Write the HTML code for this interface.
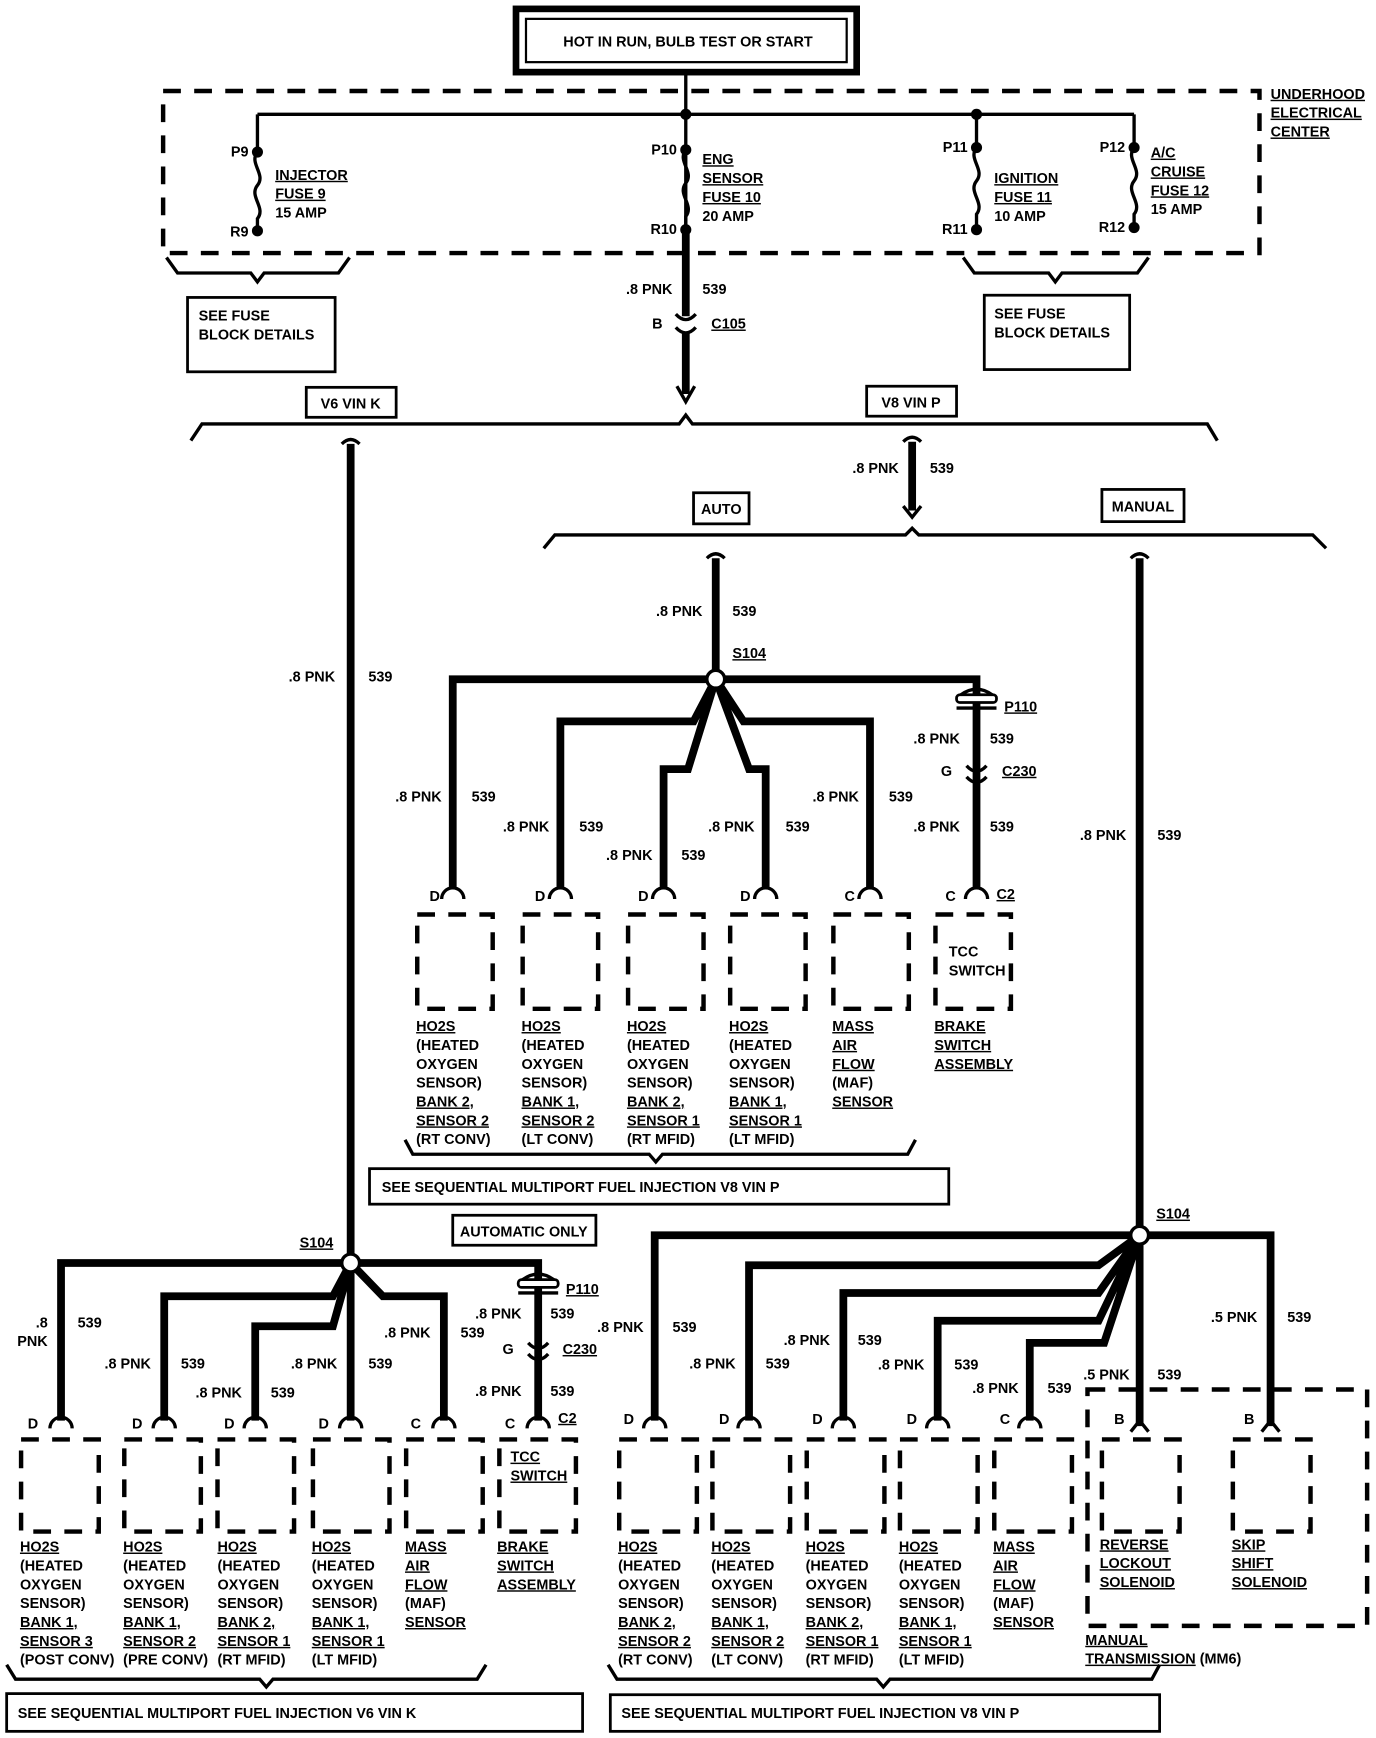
<!DOCTYPE html>
<html><head><meta charset="utf-8"><style>
html,body{margin:0;padding:0;background:#fff}
svg{display:block}
text{font-family:"Liberation Sans",sans-serif;font-weight:bold;font-size:13px;fill:#000}
.u{text-decoration:underline}
.w{stroke:#000;stroke-width:7;fill:none}
.t{stroke:#000;stroke-width:3;fill:none}
.d{stroke:#000;stroke-width:4;fill:none;stroke-dasharray:16 12}
.b{stroke:#000;stroke-width:2.5;fill:#fff}
</style></head><body>
<svg width="1376" height="1738" viewBox="0 0 1240 1566" preserveAspectRatio="none" xmlns="http://www.w3.org/2000/svg">
<rect x="0" y="0" width="1240" height="1566" fill="#fff"/>
<!-- top box -->
<rect x="465" y="8" width="307" height="57" fill="none" stroke="#000" stroke-width="6"/>
<rect x="474" y="17" width="289" height="39" fill="none" stroke="#000" stroke-width="2"/>
<text x="620" y="42" text-anchor="middle">HOT IN RUN, BULB TEST OR START</text>
<!-- dashed center -->
<rect x="147" y="82" width="988" height="146" class="d"/>
<path class="t" d="M618 65V210M232 103H1022M232 103V135M880 103V133M1022 103V133"/>
<path class="t" d="M232 137c-8 10 8 20 0 30s8 20 0 30v11M618 135c-8 10 8 20 0 30s8 20 0 30v11M880 133c-8 10 8 20 0 30s8 20 0 30v11M1022 133c-8 10 8 20 0 30s8 20 0 30v9"/>
<g fill="#000"><circle cx="618" cy="103" r="5"/><circle cx="880" cy="103" r="5"/>
<circle cx="232" cy="137" r="5"/><circle cx="232" cy="208" r="5"/><circle cx="618" cy="135" r="5"/><circle cx="618" cy="207" r="5"/><circle cx="880" cy="133" r="5"/><circle cx="880" cy="207" r="5"/><circle cx="1022" cy="133" r="5"/><circle cx="1022" cy="205" r="5"/></g>
<text x="224" y="141" text-anchor="end">P9</text><text x="224" y="213" text-anchor="end">R9</text>
<text x="610" y="139" text-anchor="end">P10</text><text x="610" y="211" text-anchor="end">R10</text>
<text x="872" y="137" text-anchor="end">P11</text><text x="872" y="211" text-anchor="end">R11</text>
<text x="1014" y="137" text-anchor="end">P12</text><text x="1014" y="209" text-anchor="end">R12</text>
<text x="248" y="162" class="u">INJECTOR</text><text x="248" y="179" class="u">FUSE 9</text><text x="248" y="196">15 AMP</text>
<text x="633" y="148" class="u">ENG</text><text x="633" y="165" class="u">SENSOR</text><text x="633" y="182" class="u">FUSE 10</text><text x="633" y="199">20 AMP</text>
<text x="896" y="165" class="u">IGNITION</text><text x="896" y="182" class="u">FUSE 11</text><text x="896" y="199">10 AMP</text>
<text x="1037" y="142" class="u">A/C</text><text x="1037" y="159" class="u">CRUISE</text><text x="1037" y="176" class="u">FUSE 12</text><text x="1037" y="193">15 AMP</text>
<text x="1145" y="89" class="u">UNDERHOOD</text><text x="1145" y="106" class="u">ELECTRICAL</text><text x="1145" y="123" class="u">CENTER</text>
<!-- fuse block brackets -->
<path class="t" d="M150 232L160 246H226L232 254L238 246H305L315 232M868 232L878 246H945L951 254L957 246H1025L1035 232"/>
<rect x="169" y="268" width="133" height="67" class="b"/><text x="179" y="289">SEE FUSE</text><text x="179" y="306">BLOCK DETAILS</text>
<rect x="887" y="266" width="131" height="67" class="b"/><text x="896" y="287">SEE FUSE</text><text x="896" y="304">BLOCK DETAILS</text>
<!-- C105 -->
<path class="w" d="M618 210V285M618 300V355"/>
<path class="t" d="M609 283q9 10 18 0M609 295q9 10 18 0"/>
<path d="M610 348L618 362L626 348" class="t"/>
<text x="606" y="265" text-anchor="end">.8 PNK</text><text x="633" y="265">539</text>
<text x="597" y="296" text-anchor="end">B</text><text x="641" y="296" class="u">C105</text>
<!-- big bracket -->
<path class="t" d="M172 397L182 382H612L618 374L624 382H1088L1097 397"/>
<rect x="276" y="349" width="81" height="27" class="b"/><text x="316" y="368" text-anchor="middle">V6 VIN K</text>
<rect x="781" y="348" width="81" height="27" class="b"/><text x="821" y="367" text-anchor="middle">V8 VIN P</text>
<!-- left long vertical -->
<path class="w" d="M316 400V1138"/><path class="t" d="M308 400q8-8 16 0"/>
<text x="302" y="614" text-anchor="end">.8 PNK</text><text x="332" y="614">539</text>
<!-- middle vertical -->
<path class="w" d="M822 398V460"/><path class="t" d="M814 398q8-8 16 0M814 456L822 466L830 456"/>
<text x="810" y="426" text-anchor="end">.8 PNK</text><text x="838" y="426">539</text>
<rect x="625" y="444" width="50" height="28" class="b"/><text x="650" y="463" text-anchor="middle">AUTO</text>
<rect x="993" y="441" width="74" height="29" class="b"/><text x="1030" y="461" text-anchor="middle">MANUAL</text>
<path class="t" d="M490 494L500 482H816L822 476L828 482H1183L1195 494"/>
<!-- auto middle -->
<path class="w" d="M645 503V612"/><path class="t" d="M637 503q8-8 16 0"/>
<text x="633" y="555" text-anchor="end">.8 PNK</text><text x="660" y="555">539</text><text x="660" y="593" class="u">S104</text>
<path class="w" d="M645 612H408V800M645 612H880V800M645 612L625 650H505V800M645 612L620 693H598V800M645 612L675 693H690V800M645 612L670 650H784V800"/>
<circle cx="645" cy="612" r="8" fill="#fff" stroke="#000" stroke-width="3"/>
<rect x="862" y="626" width="36" height="7" rx="3" fill="#fff" stroke="#000" stroke-width="2.5"/><path class="t" d="M862 638H898M866 626q14-10 28 0"/>
<text x="905" y="641" class="u">P110</text>
<path class="t" d="M871 690q9 10 18 0M871 700q9 10 18 0"/>
<text x="858" y="699" text-anchor="end">G</text><text x="903" y="699" class="u">C230</text>
<text x="865" y="670" text-anchor="end">.8 PNK</text><text x="892" y="670">539</text>
<text x="865" y="749" text-anchor="end">.8 PNK</text><text x="892" y="749">539</text>
<text x="398" y="722" text-anchor="end">.8 PNK</text><text x="425" y="722">539</text>
<text x="495" y="749" text-anchor="end">.8 PNK</text><text x="522" y="749">539</text>
<text x="588" y="775" text-anchor="end">.8 PNK</text><text x="614" y="775">539</text>
<text x="680" y="749" text-anchor="end">.8 PNK</text><text x="708" y="749">539</text>
<text x="774" y="722" text-anchor="end">.8 PNK</text><text x="801" y="722">539</text>
<g class="t"><path d="M398 810a10 10 0 0 1 20 0M495 810a10 10 0 0 1 20 0M588 810a10 10 0 0 1 20 0M680 810a10 10 0 0 1 20 0M774 810a10 10 0 0 1 20 0M870 810a10 10 0 0 1 20 0"/></g>
<text x="387" y="812">D</text><text x="482" y="812">D</text><text x="575" y="812">D</text><text x="667" y="812">D</text><text x="761" y="812">C</text><text x="852" y="812">C</text><text x="898" y="810" class="u">C2</text>
<g class="d"><rect x="376" y="824" width="68" height="85"/><rect x="471" y="824" width="68" height="85"/><rect x="566" y="824" width="68" height="85"/><rect x="658" y="824" width="68" height="85"/><rect x="751" y="824" width="68" height="85"/><rect x="843" y="824" width="68" height="85"/></g>
<text x="855" y="862">TCC</text><text x="855" y="879">SWITCH</text>
<g>
<text x="375" y="929" class="u">HO2S</text><text x="375" y="946">(HEATED</text><text x="375" y="963">OXYGEN</text><text x="375" y="980">SENSOR)</text><text x="375" y="997" class="u">BANK 2,</text><text x="375" y="1014" class="u">SENSOR 2</text><text x="375" y="1031">(RT CONV)</text>
<text x="470" y="929" class="u">HO2S</text><text x="470" y="946">(HEATED</text><text x="470" y="963">OXYGEN</text><text x="470" y="980">SENSOR)</text><text x="470" y="997" class="u">BANK 1,</text><text x="470" y="1014" class="u">SENSOR 2</text><text x="470" y="1031">(LT CONV)</text>
<text x="565" y="929" class="u">HO2S</text><text x="565" y="946">(HEATED</text><text x="565" y="963">OXYGEN</text><text x="565" y="980">SENSOR)</text><text x="565" y="997" class="u">BANK 2,</text><text x="565" y="1014" class="u">SENSOR 1</text><text x="565" y="1031">(RT MFID)</text>
<text x="657" y="929" class="u">HO2S</text><text x="657" y="946">(HEATED</text><text x="657" y="963">OXYGEN</text><text x="657" y="980">SENSOR)</text><text x="657" y="997" class="u">BANK 1,</text><text x="657" y="1014" class="u">SENSOR 1</text><text x="657" y="1031">(LT MFID)</text>
<text x="750" y="929" class="u">MASS</text><text x="750" y="946" class="u">AIR</text><text x="750" y="963" class="u">FLOW</text><text x="750" y="980">(MAF)</text><text x="750" y="997" class="u">SENSOR</text>
<text x="842" y="929" class="u">BRAKE</text><text x="842" y="946" class="u">SWITCH</text><text x="842" y="963" class="u">ASSEMBLY</text>
</g>
<path class="t" d="M365 1027L372 1040H585L591 1047L597 1040H818L825 1027"/>
<rect x="333" y="1053" width="522" height="32" class="b"/><text x="344" y="1074">SEE SEQUENTIAL MULTIPORT FUEL INJECTION V8 VIN P</text>
<rect x="408" y="1095" width="129" height="27" class="b"/><text x="472" y="1114" text-anchor="middle">AUTOMATIC ONLY</text>
<!-- bottom left -->
<text x="270" y="1124" class="u">S104</text>
<path class="w" d="M316 1138H55V1280M316 1138L300 1168H148V1280M316 1138L300 1195H230V1280M316 1138V1280M316 1138L345 1168H400V1280M316 1138H485V1280"/>
<circle cx="316" cy="1138" r="8" fill="#fff" stroke="#000" stroke-width="3"/>
<rect x="467" y="1153" width="36" height="7" rx="3" fill="#fff" stroke="#000" stroke-width="2.5"/><path class="t" d="M467 1165H503M471 1153q14-10 28 0"/>
<text x="510" y="1166" class="u">P110</text>
<path class="t" d="M476 1210q9 10 18 0M476 1220q9 10 18 0"/>
<text x="463" y="1220" text-anchor="end">G</text><text x="507" y="1220" class="u">C230</text>
<text x="470" y="1188" text-anchor="end">.8 PNK</text><text x="496" y="1188">539</text>
<text x="470" y="1258" text-anchor="end">.8 PNK</text><text x="496" y="1258">539</text>
<text x="43" y="1196" text-anchor="end">.8</text><text x="43" y="1213" text-anchor="end">PNK</text><text x="70" y="1196">539</text>
<text x="136" y="1233" text-anchor="end">.8 PNK</text><text x="163" y="1233">539</text>
<text x="218" y="1259" text-anchor="end">.8 PNK</text><text x="244" y="1259">539</text>
<text x="304" y="1233" text-anchor="end">.8 PNK</text><text x="332" y="1233">539</text>
<text x="388" y="1205" text-anchor="end">.8 PNK</text><text x="415" y="1205">539</text>
<g class="t"><path d="M45 1287a10 10 0 0 1 20 0M138 1287a10 10 0 0 1 20 0M220 1287a10 10 0 0 1 20 0M306 1287a10 10 0 0 1 20 0M390 1287a10 10 0 0 1 20 0M475 1287a10 10 0 0 1 20 0"/></g>
<text x="25" y="1287">D</text><text x="119" y="1287">D</text><text x="202" y="1287">D</text><text x="287" y="1287">D</text><text x="370" y="1287">C</text><text x="455" y="1287">C</text><text x="503" y="1282" class="u">C2</text>
<g class="d"><rect x="19" y="1297" width="70" height="83"/><rect x="112" y="1297" width="69" height="83"/><rect x="196" y="1297" width="69" height="83"/><rect x="282" y="1297" width="69" height="83"/><rect x="366" y="1297" width="69" height="83"/><rect x="450" y="1297" width="69" height="83"/></g>
<text x="460" y="1317" class="u">TCC</text><text x="460" y="1334" class="u">SWITCH</text>
<g>
<text x="18" y="1398" class="u">HO2S</text><text x="18" y="1415">(HEATED</text><text x="18" y="1432">OXYGEN</text><text x="18" y="1449">SENSOR)</text><text x="18" y="1466" class="u">BANK 1,</text><text x="18" y="1483" class="u">SENSOR 3</text><text x="18" y="1500">(POST CONV)</text>
<text x="111" y="1398" class="u">HO2S</text><text x="111" y="1415">(HEATED</text><text x="111" y="1432">OXYGEN</text><text x="111" y="1449">SENSOR)</text><text x="111" y="1466" class="u">BANK 1,</text><text x="111" y="1483" class="u">SENSOR 2</text><text x="111" y="1500">(PRE CONV)</text>
<text x="196" y="1398" class="u">HO2S</text><text x="196" y="1415">(HEATED</text><text x="196" y="1432">OXYGEN</text><text x="196" y="1449">SENSOR)</text><text x="196" y="1466" class="u">BANK 2,</text><text x="196" y="1483" class="u">SENSOR 1</text><text x="196" y="1500">(RT MFID)</text>
<text x="281" y="1398" class="u">HO2S</text><text x="281" y="1415">(HEATED</text><text x="281" y="1432">OXYGEN</text><text x="281" y="1449">SENSOR)</text><text x="281" y="1466" class="u">BANK 1,</text><text x="281" y="1483" class="u">SENSOR 1</text><text x="281" y="1500">(LT MFID)</text>
<text x="365" y="1398" class="u">MASS</text><text x="365" y="1415" class="u">AIR</text><text x="365" y="1432" class="u">FLOW</text><text x="365" y="1449">(MAF)</text><text x="365" y="1466" class="u">SENSOR</text>
<text x="448" y="1398" class="u">BRAKE</text><text x="448" y="1415" class="u">SWITCH</text><text x="448" y="1432" class="u">ASSEMBLY</text>
</g>
<path class="t" d="M6 1500L14 1513H234L240 1520L246 1513H430L438 1500"/>
<rect x="6" y="1526" width="519" height="34" class="b"/><text x="16" y="1548">SEE SEQUENTIAL MULTIPORT FUEL INJECTION V6 VIN K</text>
<!-- bottom right manual -->
<path class="w" d="M1027 503V1113"/><path class="t" d="M1019 503q8-8 16 0"/>
<text x="1015" y="757" text-anchor="end">.8 PNK</text><text x="1043" y="757">539</text>
<text x="1042" y="1098" class="u">S104</text>
<path class="w" d="M1027 1113H590V1280M1027 1113L990 1140H675V1280M1027 1113L990 1165H760V1280M1027 1113L990 1190H845V1280M1027 1113L995 1210H928V1280M1027 1113V1285M1027 1113H1145V1285"/>
<circle cx="1027" cy="1113" r="8" fill="#fff" stroke="#000" stroke-width="3"/>
<text x="580" y="1200" text-anchor="end">.8 PNK</text><text x="606" y="1200">539</text>
<text x="663" y="1233" text-anchor="end">.8 PNK</text><text x="690" y="1233">539</text>
<text x="748" y="1212" text-anchor="end">.8 PNK</text><text x="773" y="1212">539</text>
<text x="833" y="1234" text-anchor="end">.8 PNK</text><text x="860" y="1234">539</text>
<text x="918" y="1255" text-anchor="end">.8 PNK</text><text x="944" y="1255">539</text>
<text x="1018" y="1243" text-anchor="end">.5 PNK</text><text x="1043" y="1243">539</text>
<text x="1133" y="1191" text-anchor="end">.5 PNK</text><text x="1160" y="1191">539</text>
<g class="t"><path d="M580 1287a10 10 0 0 1 20 0M665 1287a10 10 0 0 1 20 0M750 1287a10 10 0 0 1 20 0M835 1287a10 10 0 0 1 20 0M918 1287a10 10 0 0 1 20 0M1019 1290L1027 1280L1035 1290M1137 1290L1145 1280L1153 1290"/></g>
<text x="562" y="1283">D</text><text x="648" y="1283">D</text><text x="732" y="1283">D</text><text x="817" y="1283">D</text><text x="901" y="1283">C</text><text x="1004" y="1283">B</text><text x="1121" y="1283">B</text>
<g class="d"><rect x="558" y="1297" width="70" height="83"/><rect x="642" y="1297" width="70" height="83"/><rect x="727" y="1297" width="70" height="83"/><rect x="811" y="1297" width="70" height="83"/><rect x="896" y="1297" width="70" height="83"/><rect x="993" y="1297" width="70" height="83"/><rect x="1111" y="1297" width="70" height="83"/><rect x="980" y="1252" width="252" height="213"/></g>
<g>
<text x="557" y="1398" class="u">HO2S</text><text x="557" y="1415">(HEATED</text><text x="557" y="1432">OXYGEN</text><text x="557" y="1449">SENSOR)</text><text x="557" y="1466" class="u">BANK 2,</text><text x="557" y="1483" class="u">SENSOR 2</text><text x="557" y="1500">(RT CONV)</text>
<text x="641" y="1398" class="u">HO2S</text><text x="641" y="1415">(HEATED</text><text x="641" y="1432">OXYGEN</text><text x="641" y="1449">SENSOR)</text><text x="641" y="1466" class="u">BANK 1,</text><text x="641" y="1483" class="u">SENSOR 2</text><text x="641" y="1500">(LT CONV)</text>
<text x="726" y="1398" class="u">HO2S</text><text x="726" y="1415">(HEATED</text><text x="726" y="1432">OXYGEN</text><text x="726" y="1449">SENSOR)</text><text x="726" y="1466" class="u">BANK 2,</text><text x="726" y="1483" class="u">SENSOR 1</text><text x="726" y="1500">(RT MFID)</text>
<text x="810" y="1398" class="u">HO2S</text><text x="810" y="1415">(HEATED</text><text x="810" y="1432">OXYGEN</text><text x="810" y="1449">SENSOR)</text><text x="810" y="1466" class="u">BANK 1,</text><text x="810" y="1483" class="u">SENSOR 1</text><text x="810" y="1500">(LT MFID)</text>
<text x="895" y="1398" class="u">MASS</text><text x="895" y="1415" class="u">AIR</text><text x="895" y="1432" class="u">FLOW</text><text x="895" y="1449">(MAF)</text><text x="895" y="1466" class="u">SENSOR</text>
<text x="991" y="1396" class="u">REVERSE</text><text x="991" y="1413" class="u">LOCKOUT</text><text x="991" y="1430" class="u">SOLENOID</text>
<text x="1110" y="1396" class="u">SKIP</text><text x="1110" y="1413" class="u">SHIFT</text><text x="1110" y="1430" class="u">SOLENOID</text>
<text x="978" y="1482" class="u">MANUAL</text><text x="978" y="1499"><tspan class="u">TRANSMISSION</tspan> (MM6)</text>
</g>
<path class="t" d="M548 1500L556 1513H790L796 1520L802 1513H1038L1045 1500"/>
<rect x="550" y="1527" width="495" height="33" class="b"/><text x="560" y="1548">SEE SEQUENTIAL MULTIPORT FUEL INJECTION V8 VIN P</text>
</svg>
</body></html>
